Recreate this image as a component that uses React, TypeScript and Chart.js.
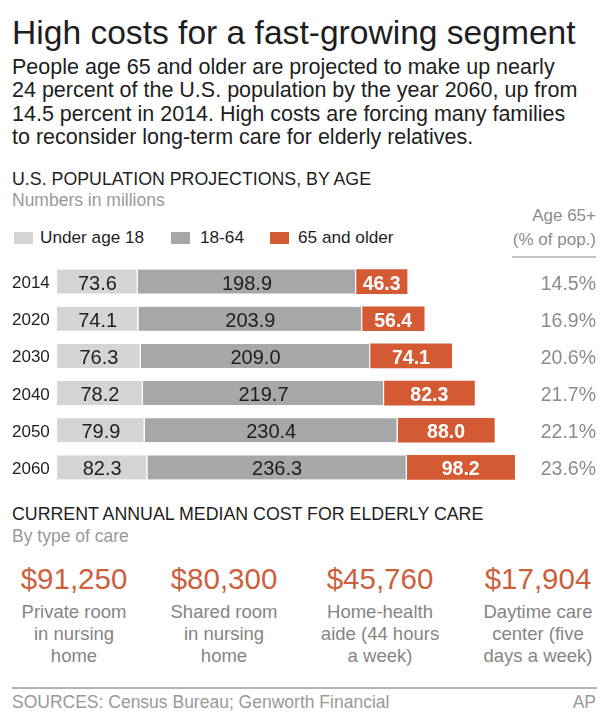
import React, { useEffect, useRef } from "react";
import { Chart, registerables } from "chart.js";

Chart.register(...registerables);

const years = ["2014", "2020", "2030", "2040", "2050", "2060"];
const under18 = [73.6, 74.1, 76.3, 78.2, 79.9, 82.3];
const age18to64 = [198.9, 203.9, 209.0, 219.7, 230.4, 236.3];
const age65plus = [46.3, 56.4, 74.1, 82.3, 88.0, 98.2];
const share65 = ["14.5%", "16.9%", "20.6%", "21.7%", "22.1%", "23.6%"];
const seriesNames = ["Under age 18", "18-64", "65 and older"];
const costs = ["$91,250", "$80,300", "$45,760", "$17,904"];
const careTypes = [
  ["Private room", "in nursing", "home"],
  ["Shared room", "in nursing", "home"],
  ["Home-health", "aide (44 hours", "a week)"],
  ["Daytime care", "center (five", "days a week)"],
];
const subtitleLines = [
  "People age 65 and older are projected to make up nearly",
  "24 percent of the U.S. population by the year 2060, up from",
  "14.5 percent in 2014. High costs are forcing many families",
  "to reconsider long-term care for elderly relatives.",
];

const W = 609;
const FONT = '"Liberation Sans", Arial, Helvetica, sans-serif';
const C_LIGHT = "#d4d4d4";
const C_MID = "#a6a7a9";
const C_ORANGE = "#d45a33";

type TP = {
  x: number;
  y: number;
  size: number;
  color?: string;
  weight?: number;
  align?: "left" | "right" | "center";
  ls?: number;
  children: React.ReactNode;
};

function Txt({ x, y, size, color = "#222", weight = 400, align = "left", ls = 0, children }: TP) {
  const style: any = {
    position: "absolute",
    top: y - 0.8465 * size,
    fontSize: size,
    lineHeight: `${size}px`,
    color,
    fontWeight: weight,
    whiteSpace: "nowrap",
    letterSpacing: ls,
  };
  if (align === "left") style.left = x;
  else if (align === "right") style.right = W - x;
  else {
    style.left = x - 150;
    style.width = 300;
    style.textAlign = "center";
  }
  return <div style={style}>{children}</div>;
}

function BarChart() {
  const ref = useRef<HTMLCanvasElement | null>(null);
  useEffect(() => {
    if (!ref.current) return;
    const labelPlugin = {
      id: "labels",
      afterDatasetsDraw(chart: any) {
        const ctx = chart.ctx;
        const ys = chart.scales.y;
        ctx.save();
        years.forEach((yr, i) => {
          const cy = ys.getPixelForValue(i);
          ctx.font = `17px ${FONT}`;
          ctx.fillStyle = "#1e1e1e";
          ctx.textAlign = "left";
          ctx.textBaseline = "alphabetic";
          ctx.fillText(yr, 12, cy + 6.5);
          ctx.font = `19.5px ${FONT}`;
          ctx.fillStyle = "#8c8c8c";
          ctx.textAlign = "right";
          ctx.fillText(share65[i], 596, cy + 8);
        });
        chart.data.datasets.forEach((ds: any, d: number) => {
          const meta = chart.getDatasetMeta(d);
          meta.data.forEach((el: any, i: number) => {
            const p = el.getProps(["x", "base", "y"], true);
            const cx = (p.x + p.base) / 2;
            const v = ds.data[i] as number;
            if (d === 2) {
              ctx.font = `bold 19.5px ${FONT}`;
              ctx.fillStyle = "#ffffff";
            } else {
              ctx.font = `20px ${FONT}`;
              ctx.fillStyle = "#1e1e1e";
            }
            ctx.textAlign = "center";
            ctx.fillText(v.toFixed(1), cx, p.y + 8);
          });
        });
        ctx.restore();
      },
    };
    const sep = { top: 0, bottom: 0, left: 0, right: 1.5 };
    const chart = new Chart(ref.current, {
      type: "bar",
      data: {
        labels: years,
        datasets: [
          { label: seriesNames[0], data: under18, backgroundColor: C_LIGHT, borderColor: "#fff", borderWidth: sep, borderSkipped: false, barThickness: 24 },
          { label: seriesNames[1], data: age18to64, backgroundColor: C_MID, borderColor: "#fff", borderWidth: sep, borderSkipped: false, barThickness: 24 },
          { label: seriesNames[2], data: age65plus, backgroundColor: C_ORANGE, borderWidth: 0, barThickness: 24 },
        ],
      },
      options: {
        indexAxis: "y",
        responsive: false,
        maintainAspectRatio: false,
        animation: false,
        layout: { padding: { left: 57, right: 3, top: 0, bottom: 0 } },
        scales: {
          x: { stacked: true, min: 0, max: 500, display: false },
          y: { stacked: true, display: false },
        },
        plugins: { legend: { display: false }, tooltip: { enabled: false } },
      } as any,
      plugins: [labelPlugin],
    });
    return () => chart.destroy();
  }, []);
  return (
    <canvas
      ref={ref}
      width={609}
      height={223}
      style={{ position: "absolute", left: 0, top: 263, width: 609, height: 223 }}
    />
  );
}

export default function App() {
  const colX = [74, 224, 380, 538];
  const legendItems = [
    { sx: 14, tx: 40, color: C_LIGHT },
    { sx: 171, tx: 200, color: C_MID },
    { sx: 270, tx: 298, color: C_ORANGE },
  ];
  return (
    <div
      style={{
        position: "absolute",
        left: 0,
        top: 0,
        width: W,
        height: 726,
        background: "#fff",
        fontFamily: FONT,
        overflow: "hidden",
      }}
    >
      <Txt x={12} y={44.5} size={33.6} color="#1e1e1e">
        High costs for a fast-growing segment
      </Txt>
      {subtitleLines.map((l, i) => (
        <Txt key={i} x={12} y={75 + i * 23.5} size={21.5} color="#1e1e1e">
          {l}
        </Txt>
      ))}
      <Txt x={12} y={185.7} size={17.8} color="#1e1e1e">
        U.S. POPULATION PROJECTIONS, BY AGE
      </Txt>
      <Txt x={12} y={206.7} size={17.5} color="#999">
        Numbers in millions
      </Txt>
      {legendItems.map((it, i) => (
        <React.Fragment key={i}>
          <div
            style={{ position: "absolute", left: it.sx, top: 232, width: 19, height: 12, background: it.color }}
          />
          <Txt x={it.tx} y={243.3} size={17.2} color="#1e1e1e">
            {seriesNames[i]}
          </Txt>
        </React.Fragment>
      ))}
      <Txt x={596} y={221.7} size={17} color="#8c8c8c" align="right">
        Age 65+
      </Txt>
      <Txt x={596} y={245} size={17} color="#8c8c8c" align="right">
        (% of pop.)
      </Txt>
      <div style={{ position: "absolute", left: 512, top: 256, width: 84, height: 1.5, background: "#c4c4c4" }} />

      <BarChart />

      <Txt x={12} y={520.7} size={17.8} color="#1e1e1e">
        CURRENT ANNUAL MEDIAN COST FOR ELDERLY CARE
      </Txt>
      <Txt x={12} y={543.3} size={17.5} color="#999">
        By type of care
      </Txt>
      {costs.map((c, i) => (
        <React.Fragment key={i}>
          <Txt x={colX[i]} y={589} size={29.5} color="#cd5f3d" align="center">
            {c}
          </Txt>
          {careTypes[i].map((l, j) => (
            <Txt key={j} x={colX[i]} y={618.3 + j * 22} size={18.5} color="#858585" align="center">
              {l}
            </Txt>
          ))}
        </React.Fragment>
      ))}
      <div style={{ position: "absolute", left: 12, top: 687, width: 585, height: 1.5, background: "#b4b4b4" }} />
      <Txt x={12} y={708.5} size={17.5} color="#999">
        SOURCES: Census Bureau; Genworth Financial
      </Txt>
      <Txt x={596} y={708.5} size={17.5} color="#999" align="right">
        AP
      </Txt>
    </div>
  );
}
